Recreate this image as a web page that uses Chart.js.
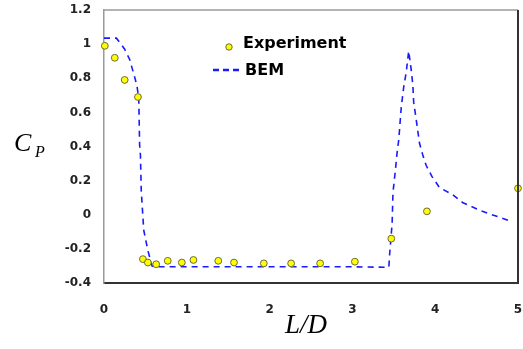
<!DOCTYPE html>
<html><head><meta charset="utf-8">
<script src="https://cdn.jsdelivr.net/npm/chart.js@4/dist/chart.umd.min.js"></script>
<style>html,body{margin:0;padding:0;background:#fff}#wrap{width:523px;height:349px}</style>
</head><body><div id="wrap"><canvas id="c" width="523" height="349"></canvas></div>
<script>
const expL  = [0.01, 0.13, 0.25, 0.41, 0.47, 0.53, 0.63, 0.77, 0.94, 1.08, 1.38, 1.57, 1.93, 2.26, 2.61, 3.03, 3.47, 3.90, 5.0];
const expCp = [0.99, 0.92, 0.79, 0.69, -0.26, -0.28, -0.29, -0.27, -0.28, -0.265, -0.27, -0.28, -0.285, -0.285, -0.285, -0.275, -0.14, 0.02, 0.155];
const bemL  = [0, 0.15, 0.25, 0.31, 0.38, 0.40, 0.42, 0.43, 0.44, 0.45, 0.48, 0.53, 0.58, 0.62, 1.0, 2.0, 3.0, 3.44, 3.45, 3.48, 3.49, 3.52, 3.54, 3.56, 3.59, 3.62, 3.65, 3.68, 3.71, 3.73, 3.74, 3.77, 3.81, 3.85, 3.89, 3.96, 4.05, 4.21, 4.33, 4.57, 4.89];
const bemCp = [1.035, 1.035, 0.97, 0.91, 0.79, 0.75, 0.68, 0.41, 0.35, 0.14, -0.09, -0.21, -0.30, -0.305, -0.305, -0.305, -0.305, -0.308, -0.23, -0.05, 0.13, 0.265, 0.365, 0.44, 0.63, 0.75, 0.835, 0.96, 0.85, 0.76, 0.66, 0.56, 0.42, 0.35, 0.29, 0.225, 0.16, 0.118, 0.072, 0.02, -0.034];
const seriesNames = ['Experiment', 'BEM'];
const yTitle = ['C', 'P'];
const xTitle = 'L/D';

const pointStyle = {fill:'#ffff00', stroke:'#6b6b3a'};
const lineColor = '#1a1aff';
const tickFont = {family: '"DejaVu Sans", sans-serif', weight: 'bold', size: 12};

const overlay = {
  id: 'overlay',
  afterDraw(chart) {
    const ctx = chart.ctx, a = chart.chartArea;
    ctx.save();
    ctx.lineWidth = 1.5;
    ctx.strokeStyle = '#9a9a9a';
    ctx.beginPath(); ctx.moveTo(a.left, a.top); ctx.lineTo(a.right, a.top); ctx.stroke();
    ctx.strokeStyle = '#333';
    ctx.lineWidth = 2;
    ctx.beginPath(); ctx.moveTo(a.right, a.top); ctx.lineTo(a.right, a.bottom); ctx.stroke();
    // legend
    ctx.fillStyle = pointStyle.fill; ctx.strokeStyle = pointStyle.stroke; ctx.lineWidth = 1;
    ctx.beginPath(); ctx.arc(229, 47, 3.2, 0, Math.PI*2); ctx.fill(); ctx.stroke();
    ctx.fillStyle = '#000';
    ctx.font = 'bold 16px "DejaVu Sans", sans-serif';
    ctx.textBaseline = 'middle'; ctx.textAlign = 'left';
    ctx.fillText(seriesNames[0], 243, 44);
    ctx.fillText(seriesNames[1], 245, 71);
    ctx.strokeStyle = lineColor; ctx.lineWidth = 2.5; ctx.setLineDash([6,4]);
    ctx.beginPath(); ctx.moveTo(213, 70); ctx.lineTo(243, 70); ctx.stroke();
    ctx.setLineDash([]);
    // axis titles
    ctx.fillStyle = '#000';
    ctx.font = 'italic 26px "Liberation Serif", "Times New Roman", serif';
    ctx.textBaseline = 'alphabetic';
    ctx.fillText(yTitle[0], 14, 151);
    ctx.font = 'italic 16px "Liberation Serif", "Times New Roman", serif';
    ctx.fillText(yTitle[1], 35, 157);
    ctx.font = 'italic 27px "Liberation Serif", "Times New Roman", serif';
    ctx.textAlign = 'center';
    ctx.fillText(xTitle, 306, 333);
    ctx.restore();
  }
};

new Chart(document.getElementById('c'), {
  type: 'scatter',
  data: {
    datasets: [
      {
        label: seriesNames[0],
        data: expL.map((x,i)=>({x, y: expCp[i]})),
        backgroundColor: pointStyle.fill,
        borderColor: pointStyle.stroke,
        borderWidth: 1,
        pointRadius: 3.4,
        order: 0
      },
      {
        label: seriesNames[1],
        data: bemL.map((x,i)=>({x, y: bemCp[i]})),
        showLine: true,
        borderColor: lineColor,
        borderWidth: 1.6,
        borderDash: [6,5],
        pointRadius: 0,
        fill: false,
        tension: 0,
        order: 1
      }
    ]
  },
  options: {
    responsive: false,
    animation: false,
    clip: false,
    layout: {padding: {top: 10, right: 5, left: 0, bottom: 0}},
    plugins: {legend: {display: false}, tooltip: {enabled: false}},
    scales: {
      x: {
        type: 'linear', min: 0, max: 5,
        ticks: {stepSize: 1, padding: 20, color: '#222', font: tickFont},
        grid: {display: false, drawTicks: false},
        border: {display: true, color: '#333', width: 2},
        afterFit(s){ s.height = 66; s.paddingLeft = 0; s.paddingRight = 0; }
      },
      y: {
        min: -0.4, max: 1.2,
        ticks: {stepSize: 0.2, padding: 13, color: '#222', font: tickFont,
          callback: v => String(Math.round(v*10)/10)},
        grid: {display: false, drawTicks: false},
        border: {display: true, color: '#9a9a9a', width: 1.5},
        afterFit(s){ s.width = 104; s.paddingTop = 0; s.paddingBottom = 0; }
      }
    }
  },
  plugins: [overlay]
});
</script>
</body></html>
